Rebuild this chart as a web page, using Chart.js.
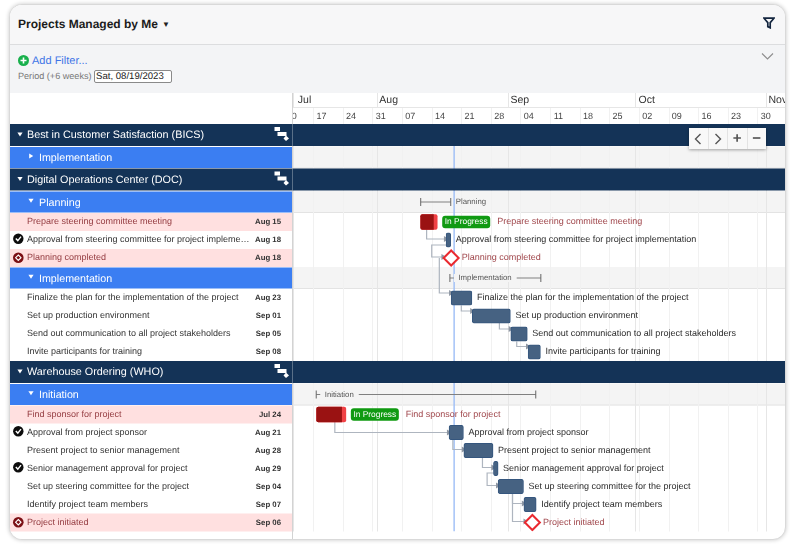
<!DOCTYPE html>
<html><head><meta charset="utf-8">
<script src="https://cdn.jsdelivr.net/npm/chart.js@4"></script>
<style>
html,body{margin:0;padding:0;background:#fff;width:790px;height:544px;overflow:hidden;font-family:"Liberation Sans",Arial,sans-serif;text-rendering:geometricPrecision}
#card{position:absolute;left:9px;top:4px;width:775px;height:534px;border:1px solid #d9d9d9;border-radius:13px;overflow:hidden;background:#fff;box-shadow:0 0 4px rgba(0,0,0,.22)}
#gantt{position:absolute;left:-10px;top:-5px}
#top{position:absolute;left:0;top:0;width:100%;height:39px;background:#f7f7f8;border-bottom:1px solid #dcdddf}
#filter{position:absolute;left:0;top:40px;width:100%;height:48px;background:#f3f4f6}
.t{position:absolute;white-space:nowrap}
#nav{position:absolute;left:679px;top:123px;width:77px;height:21px;background:#f8f8f8;box-shadow:0 1px 3px rgba(0,0,0,.35);display:flex}
#nav div{flex:1;border-right:1px solid #e3e3e3;display:flex;align-items:center;justify-content:center;color:#555;font-weight:bold;font-size:15px;line-height:1}
#nav div:last-child{border-right:0}
</style></head><body>
<div id="card">
<canvas id="gantt" width="790" height="544"></canvas>
<div id="top">
 <div class="t" style="left:8px;top:12px;font-size:12px;font-weight:bold;color:#1c1c1c">Projects Managed by Me</div>
 <div class="t" style="left:152px;top:15px;font-size:8px;color:#222">▼</div>
 <svg class="t" style="left:753px;top:12px" width="12" height="12" viewBox="0 0 12 12"><path d="M1 1.2H11L7.2 5.6V10.8L4.8 9.6V5.6Z" fill="none" stroke="#14263f" stroke-width="1.7"/></svg>
</div>
<div id="filter">
 <svg class="t" style="left:8px;top:10px" width="11" height="11" viewBox="0 0 11 11"><circle cx="5.5" cy="5.5" r="5.5" fill="#18b04c"/><path d="M5.5 2.5V8.5M2.5 5.5H8.5" stroke="#fff" stroke-width="1.6"/></svg>
 <div class="t" style="left:22px;top:10px;font-size:11px;color:#3e74e6">Add Filter...</div>
 <div class="t" style="left:8px;top:26px;font-size:9.1px;color:#777">Period (+6 weeks)</div>
 <div class="t" style="left:84px;top:25px;width:75px;height:11px;border:1px solid #8a8a8a;border-radius:2px;background:#fff;font-size:9.6px;line-height:11px;color:#222;padding-left:1px">Sat, 08/19/2023</div>
 <svg class="t" style="left:751px;top:7px" width="13" height="9" viewBox="0 0 13 9"><path d="M1 1.5L6.5 7L12 1.5" fill="none" stroke="#8d8d8d" stroke-width="1.1"/></svg>
</div>
<div id="nav">
 <div><svg width="8" height="12" viewBox="0 0 8 12"><path d="M6.5 1L1.5 6L6.5 11" fill="none" stroke="#555" stroke-width="1.4"/></svg></div>
 <div><svg width="8" height="12" viewBox="0 0 8 12"><path d="M1.5 1L6.5 6L1.5 11" fill="none" stroke="#555" stroke-width="1.4"/></svg></div>
 <div>+</div><div>−</div>
</div>
</div>
<script>
// ---- data (days are counted from Jul 1 2023) ----
const rowKinds = ['group','section','group','section','task','task','task','section','task','task','task','task','group','section','task','task','task','task','task','task','task'];
const rowLabels = ['Best in Customer Satisfaction (BICS)','Implementation','Digital Operations Center (DOC)','Planning','Prepare steering committee meeting','Approval from steering committee for project impleme…','Planning completed','Implementation','Finalize the plan for the implementation of the project','Set up production environment','Send out communication to all project stakeholders','Invite participants for training','Warehouse Ordering (WHO)','Initiation','Find sponsor for project','Approval from project sponsor','Present project to senior management','Senior management approval for project','Set up steering committee for the project','Identify project team members','Project initiated'];
const chartLabels = [null,null,null,null,'Prepare steering committee meeting','Approval from steering committee for project implementation','Planning completed',null,'Finalize the plan for the implementation of the project','Set up production environment','Send out communication to all project stakeholders','Invite participants for training',null,null,'Find sponsor for project','Approval from project sponsor','Present project to senior management','Senior management approval for project','Set up steering committee for the project','Identify project team members','Project initiated'];
const rowDates = ['','','','','Aug 15','Aug 18','Aug 18','','Aug 23','Sep 01','Sep 05','Sep 08','','','Jul 24','Aug 21','Aug 28','Aug 29','Sep 04','Sep 07','Sep 06'];
const rowState = ['','','','','late','done','mile','','','','','','','','late','done','','done','','','mile'];
const barStart = [null,null,null,41.3,41.3,47.3,null,48.2,48.5,53.5,62.6,66.7,null,16.6,16.7,48,51.5,58.5,59.6,65.7,null];
const barEnd   = [null,null,null,48.4,45.2,48.4,null,69.7,53.4,62.5,66.5,69.6,null,68.5,23.6,51.4,58.4,59.6,65.6,68.6,null];
const lateSplit = {4:44.3,14:22.6};
const milestoneDay = {6:48.5,20:67.7};
const weekDays = [9,16,23,30,37,44,51,58,65,72,79,86,93,100,107,114,121];
const weekLabels = ['10','17','24','31','07','14','21','28','04','11','18','25','02','09','16','23','30'];
const monthDays = [11.11,31,62,92,123];
const monthLabels = ['Jul','Aug','Sep','Oct','Nov'];
const todayDay = 49.2;
const linkFrom = [4,5,6,8,9,10,14,15,16,17,18,18];
const linkTo   = [5,6,8,9,10,11,15,16,17,18,19,20];
const linkDrop = [42.7,43.9,45.7,50.9,59.9,64,21,48.9,55.9,57,63,63];
const linkWrapFrom = [null,47.3,null,null,null,null,null,null,null,58.5,null,null];
const linkEnd  = [47.2,46.6,48.4,53.4,62.5,66.6,47.9,51.4,58.4,59.5,65.6,66];
const linkExit = [7,5,0,7.5,7,7.5,7.5,7.5,7.5,4.5,7,7];
const linkEntry = [-1,-1,-5,-5,-5,-5.5,0,-1,-1,-1,-1,-1];

// ---- row geometry on the vertical scale ----
const rowSize = {group:22.5,section:22,task:18};
const rowTop = [];
let total = 0;
rowKinds.forEach((k,i)=>{rowTop[i]=total;total+=rowSize[k];});
const rowMid = i => rowTop[i]+rowSize[rowKinds[i]]/2;

// ---- colours ----
const NAVY='#143357',BLUE='#3b7ef2',TASK='#466282',TASK_B='#35567e',GREY='#aeb5bf',RED='#ea2a30';
const FONT='"Liberation Sans",Arial,sans-serif';

const taskIdx = rowKinds.map((k,i)=>k==='task'&&barStart[i]!=null?i:-1).filter(i=>i>=0);
const lateIdx = taskIdx.filter(i=>rowState[i]==='late');
const plainIdx = taskIdx.filter(i=>rowState[i]!=='late');
const sectionIdx = rowKinds.map((k,i)=>k==='section'&&barStart[i]!=null?i:-1).filter(i=>i>=0);

const common = {xAxisID:'x',yAxisID:'y'};
const datasets = [];
// today line
datasets.push({...common,type:'scatter',label:'Today',showLine:true,data:[{x:todayDay,y:0},{x:todayDay,y:total}],borderColor:'#9dbdf7',borderWidth:1.4,pointRadius:0,order:9});
// summary brackets
sectionIdx.forEach(i=>datasets.push({...common,type:'scatter',label:rowLabels[i],showLine:true,
  data:[{x:barStart[i],y:rowMid(i)},{x:barEnd[i],y:rowMid(i)}],
  borderColor:'#808080',borderWidth:1.2,pointStyle:'line',pointRotation:90,pointRadius:4,pointBorderWidth:1,pointBorderColor:'#666',order:8}));
// dependency connectors
linkFrom.forEach((f,n)=>{
  const t=linkTo[n],y0=rowMid(f)+linkExit[n],y1=rowMid(t)+linkEntry[n],pts=[];
  if(linkWrapFrom[n]!=null)pts.push({x:linkWrapFrom[n],y:y0});
  pts.push({x:linkDrop[n],y:y0},{x:linkDrop[n],y:y1},{x:linkEnd[n],y:y1});
  const last=pts.length-1;
  datasets.push({...common,type:'scatter',label:'link'+n,showLine:true,data:pts,borderColor:GREY,borderWidth:1.2,tension:0,
    pointStyle:'triangle',pointRotation:90,pointBackgroundColor:'#8f97a3',pointBorderWidth:0,
    pointRadius:c=>c.dataIndex===last?3.4:0,order:7});
});
// task bars
datasets.push({...common,type:'bar',label:'Tasks',indexAxis:'y',grouped:false,barThickness:14.5,order:3,
  data:plainIdx.map(i=>({x:[barStart[i],barEnd[i]],y:rowMid(i)})),
  backgroundColor:TASK,borderColor:TASK_B,borderWidth:1,borderRadius:2,borderSkipped:false});
datasets.push({...common,type:'bar',label:'Overdue',indexAxis:'y',grouped:false,barThickness:15,order:4,
  data:lateIdx.map(i=>({x:[barStart[i],barEnd[i]],y:rowMid(i)})),
  backgroundColor:'#f04145',borderRadius:2,borderSkipped:false});
datasets.push({...common,type:'bar',label:'Progress',indexAxis:'y',grouped:false,barThickness:15,order:3,
  data:lateIdx.map(i=>({x:[barStart[i],lateSplit[i]],y:rowMid(i)})),
  backgroundColor:'#9a1212',borderRadius:{topLeft:2,bottomLeft:2,topRight:0,bottomRight:0},borderSkipped:false});
// milestones
datasets.push({...common,type:'scatter',label:'Milestones',
  data:Object.keys(milestoneDay).map(i=>({x:milestoneDay[i],y:rowMid(+i)})),
  pointStyle:'rectRot',pointRadius:7.5,pointBackgroundColor:'#fff',pointBorderColor:RED,pointBorderWidth:2,order:2});

function text(ctx,s,x,y,font,color,align){ctx.font=font;ctx.fillStyle=color;ctx.textAlign=align||'left';ctx.textBaseline='middle';ctx.fillText(s,x,y);}

const ganttPlugin={
 id:'gantt',
 beforeDraw(chart){
  const {ctx,chartArea:a,scales:{y}}=chart;
  ctx.textRendering='geometricPrecision';
  ctx.save();
  rowKinds.forEach((k,i)=>{
    if(k!=='section')return;
    const top=y.getPixelForValue(rowTop[i]),bot=y.getPixelForValue(rowTop[i]+rowSize[k]);
    ctx.fillStyle='#f4f4f4';ctx.fillRect(a.left,top,a.right-a.left,bot-top);
    ctx.fillStyle='#e3e3e3';ctx.fillRect(a.left,bot-1,a.right-a.left,1);
  });
  ctx.restore();
 },
 afterDatasetsDraw(chart){
  const {ctx,chartArea:a,scales:{x,y}}=chart;
  ctx.save();
  ctx.textRendering='geometricPrecision';
  // header rules
  ctx.fillStyle='#e6e6e6';ctx.fillRect(a.left,107,a.right-a.left,1);
  // left pane backdrop (covers what spills out of the time axis)
  ctx.fillStyle='#fff';ctx.fillRect(0,0,a.left-1,544);
  // group bands
  rowKinds.forEach((k,i)=>{
    const top=y.getPixelForValue(rowTop[i]),h=rowSize[k];
    if(k==='group'){ctx.fillStyle=NAVY;ctx.fillRect(10,top,a.right-10,h-0.5);}
    if(k==='section'){ctx.fillStyle=BLUE;ctx.fillRect(10,top+0.5,a.left-11,h-1);}
    if(k==='task'&&(rowState[i]==='late'||rowState[i]==='mile')){ctx.fillStyle='#ffe0e0';ctx.fillRect(10,top,a.left-11,h);}
  });
  ctx.fillStyle='#d3d3d3';ctx.fillRect(a.left-1,93,1,451);
  rowKinds.forEach((k,i)=>{ if(k==='group'){ctx.fillStyle='#5a7088';ctx.fillRect(a.left-1,y.getPixelForValue(rowTop[i]),1,rowSize[k]-0.5);} });
  // left pane text and icons
  rowKinds.forEach((k,i)=>{
    const m=y.getPixelForValue(rowMid(i)),top=y.getPixelForValue(rowTop[i]);
    if(k==='group'){
      text(ctx,rowLabels[i],27,m,'10.8px '+FONT,'#fff');
      tri(ctx,20,m-1,'#fff',true);
      ctx.fillStyle='#fff';
      ctx.fillRect(274.5,top+3,5.5,4);ctx.fillRect(277.5,top+8,9,4);
      ctx.beginPath();ctx.moveTo(286,top+11.5);ctx.lineTo(289,top+14.5);ctx.lineTo(286,top+17);ctx.lineTo(283.5,top+14.5);ctx.fill();
    } else if(k==='section'){
      text(ctx,rowLabels[i],39,m+1,'10.7px '+FONT,'#fff');
      tri(ctx,31,m-1.5,'#fff',i===1?false:true);
    } else {
      const st=rowState[i],red=st==='late'||st==='mile';
      text(ctx,rowLabels[i],27,m,'9px '+FONT,red?'#943b40':'#333');
      text(ctx,rowDates[i],281,m,'bold 7.8px '+FONT,'#333','right');
      if(st==='done'){
        ctx.fillStyle='#0d0d0d';ctx.beginPath();ctx.arc(18.3,m-1.3,5.2,0,7);ctx.fill();
        ctx.strokeStyle='#fff';ctx.lineWidth=1.4;ctx.beginPath();ctx.moveTo(15.8,m-1.5);ctx.lineTo(17.8,m+0.6);ctx.lineTo(21,m-3.4);ctx.stroke();
      }
      if(st==='mile'){
        ctx.fillStyle='#7c0f14';ctx.beginPath();ctx.arc(18.3,m-0.3,5.3,0,7);ctx.fill();
        ctx.strokeStyle='#fff';ctx.lineWidth=1.1;ctx.beginPath();ctx.moveTo(18.3,m-3);ctx.lineTo(21,m-0.3);ctx.lineTo(18.3,m+2.4);ctx.lineTo(15.6,m-0.3);ctx.closePath();ctx.stroke();
      }
    }
  });
  // timeline labels
  rowKinds.forEach((k,i)=>{
    const m=y.getPixelForValue(rowMid(i));
    if(k==='section'&&barStart[i]!=null){
      ctx.font='7.8px '+FONT;
      const s=rowLabels[i],w=ctx.measureText(s).width,x0=x.getPixelForValue(barStart[i]),x1=x.getPixelForValue(barEnd[i]);
      const inside=x1-x0>w+15,lx=inside?x0+8.5:x1+5;
      if(inside){ctx.fillStyle='#f4f4f4';ctx.fillRect(lx-4.5,m-4,w+9.5,8);}
      text(ctx,s,lx,m,'7.8px '+FONT,'#555');
    }
    if(k==='task'&&chartLabels[i]){
      const st=rowState[i],red=st==='late'||st==='mile';
      const f='9px '+FONT;
      let lx;
      if(st==='mile'){lx=x.getPixelForValue(milestoneDay[i])+10.5;}
      else lx=x.getPixelForValue(barEnd[i])+5;
      if(st==='late'){
        ctx.fillStyle='#109a12';ctx.beginPath();ctx.roundRect(lx,m-6.3,48,12.6,3);ctx.fill();
        text(ctx,'In Progress',lx+24,m,'8.4px '+FONT,'#fff','center');
        lx+=55;
      }
      text(ctx,chartLabels[i],lx,m,f,red?'#a0474c':'#2b2b2b');
    }
  });
  ctx.restore();
 }
};
function tri(ctx,cx,cy,col,down){
  ctx.fillStyle=col;ctx.beginPath();
  if(down){ctx.moveTo(cx-2.6,cy-1.8);ctx.lineTo(cx+2.6,cy-1.8);ctx.lineTo(cx,cy+2.2);}
  else{ctx.moveTo(cx-1.8,cy-2.6);ctx.lineTo(cx+2.2,cy);ctx.lineTo(cx-1.8,cy+2.6);}
  ctx.closePath();ctx.fill();
}

new Chart(document.getElementById('gantt'),{
 data:{datasets},
 plugins:[ganttPlugin],
 options:{
  responsive:false,animation:false,
  layout:{autoPadding:false,padding:{left:293,right:5,top:93,bottom:544-124-total}},
  plugins:{legend:{display:false},tooltip:{enabled:false}},
  scales:{
   y:{type:'linear',display:false,reverse:true,min:0,max:total,offset:false,grid:{offset:false}},
   x:{type:'linear',axis:'x',position:'top',weight:1,min:11.11,max:127.42,
      afterBuildTicks:s=>{s.ticks=weekDays.map(v=>({value:v}));},
      afterFit:s=>{s.height=16;s.paddingLeft=0;s.paddingRight=0;},
      border:{display:false},
      grid:{color:'#f1f1f1',lineWidth:1,tickLength:16,drawTicks:true},
      ticks:{autoSkip:false,maxRotation:0,minRotation:0,padding:-14,labelOffset:7.8,font:{family:FONT,size:9},color:'#444',
        callback:(v,i)=>weekLabels[i]}},
   xMonths:{type:'linear',axis:'x',position:'top',weight:2,min:11.11,max:127.42,
      afterBuildTicks:s=>{s.ticks=monthDays.map(v=>({value:v}));},
      afterFit:s=>{s.height=15;s.paddingLeft=0;s.paddingRight=0;},
      border:{display:false},
      grid:{color:'#e6e6e6',lineWidth:1,tickLength:15,drawTicks:true},
      ticks:{autoSkip:false,maxRotation:0,minRotation:0,padding:-13,labelOffset:11.5,font:{family:FONT,size:10.5},color:'#333',
        callback:(v,i)=>monthLabels[i]}}
  }
 }
});
</script>
</body></html>
